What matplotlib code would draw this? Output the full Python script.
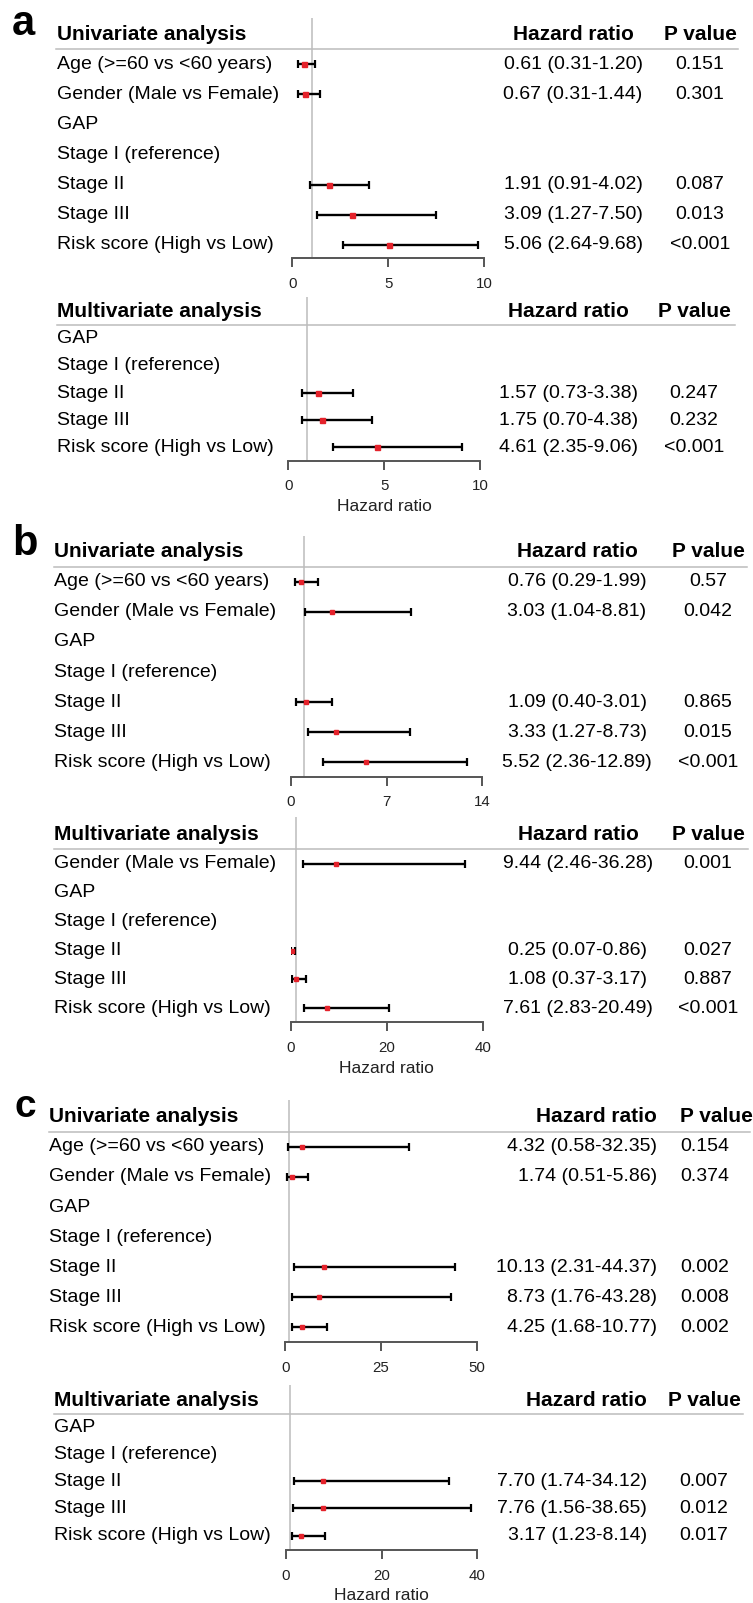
import numpy as np
import matplotlib
matplotlib.use('Agg')
import matplotlib.pyplot as plt
import matplotlib.transforms as mtransforms

plt.rcParams['font.family'] = ['Liberation Sans', 'DejaVu Sans']

W, H = 753, 1603
nan = np.nan

# ---- data -------------------------------------------------------------
# a, univariate
a_uni_labels = ['Age (>=60 vs <60 years)', 'Gender (Male vs Female)', 'GAP',
                'Stage I (reference)', 'Stage II', 'Stage III', 'Risk score (High vs Low)']
a_uni_hr = [0.61, 0.67, nan, nan, 1.91, 3.09, 5.06]
a_uni_lo = [0.31, 0.31, nan, nan, 0.91, 1.27, 2.64]
a_uni_hi = [1.20, 1.44, nan, nan, 4.02, 7.50, 9.68]
a_uni_p = ['0.151', '0.301', '', '', '0.087', '0.013', '<0.001']

# a, multivariate
a_mul_labels = ['GAP', 'Stage I (reference)', 'Stage II', 'Stage III', 'Risk score (High vs Low)']
a_mul_hr = [nan, nan, 1.57, 1.75, 4.61]
a_mul_lo = [nan, nan, 0.73, 0.70, 2.35]
a_mul_hi = [nan, nan, 3.38, 4.38, 9.06]
a_mul_p = ['', '', '0.247', '0.232', '<0.001']

# b, univariate
b_uni_labels = a_uni_labels
b_uni_hr = [0.76, 3.03, nan, nan, 1.09, 3.33, 5.52]
b_uni_lo = [0.29, 1.04, nan, nan, 0.40, 1.27, 2.36]
b_uni_hi = [1.99, 8.81, nan, nan, 3.01, 8.73, 12.89]
b_uni_p = ['0.57', '0.042', '', '', '0.865', '0.015', '<0.001']

# b, multivariate
b_mul_labels = ['Gender (Male vs Female)', 'GAP', 'Stage I (reference)', 'Stage II',
                'Stage III', 'Risk score (High vs Low)']
b_mul_hr = [9.44, nan, nan, 0.25, 1.08, 7.61]
b_mul_lo = [2.46, nan, nan, 0.07, 0.37, 2.83]
b_mul_hi = [36.28, nan, nan, 0.86, 3.17, 20.49]
b_mul_p = ['0.001', '', '', '0.027', '0.887', '<0.001']

# c, univariate
c_uni_labels = a_uni_labels
c_uni_hr = [4.32, 1.74, nan, nan, 10.13, 8.73, 4.25]
c_uni_lo = [0.58, 0.51, nan, nan, 2.31, 1.76, 1.68]
c_uni_hi = [32.35, 5.86, nan, nan, 44.37, 43.28, 10.77]
c_uni_p = ['0.154', '0.374', '', '', '0.002', '0.008', '0.002']

# c, multivariate
c_mul_labels = a_mul_labels
c_mul_hr = [nan, nan, 7.70, 7.76, 3.17]
c_mul_lo = [nan, nan, 1.74, 1.56, 1.23]
c_mul_hi = [nan, nan, 34.12, 38.65, 8.14]
c_mul_p = ['', '', '0.007', '0.012', '0.017']

RED = '#e4222b'
GREY = '#bcbcbc'
AX = '#555555'

fig = plt.figure(figsize=(W / 100, H / 100), dpi=100)


def forest(title, labels, hr, lo, hi, pv, xmax, ticks, lay, msize, xlabel=False):
    # lay: pixel layout of this block
    top, head, step, axis = lay['top'], lay['head'], lay['step'], lay['axis']
    x0, x1 = lay['x0'], lay['x1']
    ax = fig.add_axes([x0 / W, 1 - axis / H, (x1 - x0) / W, (axis - top) / H])
    ax.set_xlim(0, xmax)
    ax.set_ylim((axis - head) / step, (top - head) / step)

    hr = np.array(hr); lo = np.array(lo); hi = np.array(hi)
    y = np.arange(1, len(labels) + 1)
    ok = ~np.isnan(hr)

    ax.axvline(1, color=GREY, lw=1.1, zorder=0)
    ax.errorbar(hr[ok], y[ok], xerr=[hr[ok] - lo[ok], hi[ok] - hr[ok]], fmt='none',
                ecolor='black', elinewidth=1.7, capsize=2.6, capthick=1.6, zorder=2)
    ax.plot(hr[ok], y[ok], 's', color=RED, mec=RED, ms=msize, zorder=3)

    for s in ['top', 'left', 'right']:
        ax.spines[s].set_visible(False)
    ax.spines['bottom'].set_color(AX)
    ax.spines['bottom'].set_linewidth(1.4)
    ax.set_yticks([])
    ax.set_xticks(ticks)
    ax.tick_params(axis='x', direction='out', length=6.5, width=1.4, color=AX,
                   labelsize=10.8, pad=7, labelcolor='#222222')
    if xlabel:
        ax.set_xlabel('Hazard ratio', fontsize=12.5, labelpad=4, color='#222222')

    tr = mtransforms.blended_transform_factory(fig.transFigure, ax.transData)
    ax.plot([lay['lx0'] / W, lay['lx1'] / W], [0.5, 0.5], transform=tr, color=GREY,
            lw=1.1, clip_on=False)
    ax.text(lay['lab'] / W, 0, title, transform=tr, fontsize=15, fontweight='bold',
            va='center', ha='left')
    ax.text(lay['hr'] / W, 0, 'Hazard ratio', transform=tr, fontsize=15,
            fontweight='bold', va='center', ha=lay['hr_ha'])
    ax.text(lay['p'] / W, 0, 'P value', transform=tr, fontsize=15,
            fontweight='bold', va='center', ha=lay['p_ha'])

    for i, lab in enumerate(labels):
        ax.text(lay['lab'] / W, y[i], lab, transform=tr, fontsize=14, va='center',
                ha='left', clip_on=False)
        if ok[i]:
            ax.text(lay['hr'] / W, y[i], '%.2f (%.2f-%.2f)' % (hr[i], lo[i], hi[i]),
                    transform=tr, fontsize=14, va='center', ha=lay['hr_ha'])
            ax.text(lay['p'] / W, y[i], pv[i], transform=tr, fontsize=14,
                    va='center', ha=lay['p_ha'])
    return ax


lay_a1 = dict(top=18, head=34, step=30.1, axis=258, x0=292.3, x1=484.3, lab=57,
              lx0=56, lx1=738, hr=573, hr_ha='center', p=700, p_ha='center')
lay_a2 = dict(top=297, head=311.7, step=27.1, axis=460.7, x0=288.3, x1=480, lab=57,
              lx0=57, lx1=735, hr=568.5, hr_ha='center', p=694, p_ha='center')
lay_b1 = dict(top=536, head=551.7, step=30.1, axis=776.7, x0=290.7, x1=482.3, lab=54.3,
              lx0=53.5, lx1=747, hr=577, hr_ha='center', p=708, p_ha='center')
lay_b2 = dict(top=817, head=835, step=28.9, axis=1022.3, x0=290.7, x1=482.7, lab=54.3,
              lx0=54, lx1=748, hr=578, hr_ha='center', p=708, p_ha='center')
lay_c1 = dict(top=1100, head=1116.7, step=30.1, axis=1342.3, x0=285.3, x1=476.7, lab=49.3,
              lx0=48.5, lx1=750, hr=657, hr_ha='right', p=680, p_ha='left')
lay_c2 = dict(top=1385, head=1400, step=27.1, axis=1550, x0=285.7, x1=477.3, lab=54.3,
              lx0=54, lx1=743, hr=647, hr_ha='right', p=704, p_ha='center')

forest('Univariate analysis', a_uni_labels, a_uni_hr, a_uni_lo, a_uni_hi, a_uni_p,
       10, [0, 5, 10], lay_a1, 3.6)
forest('Multivariate analysis', a_mul_labels, a_mul_hr, a_mul_lo, a_mul_hi, a_mul_p,
       10, [0, 5, 10], lay_a2, 3.6, xlabel=True)
forest('Univariate analysis', b_uni_labels, b_uni_hr, b_uni_lo, b_uni_hi, b_uni_p,
       14, [0, 7, 14], lay_b1, 2.4)
forest('Multivariate analysis', b_mul_labels, b_mul_hr, b_mul_lo, b_mul_hi, b_mul_p,
       40, [0, 20, 40], lay_b2, 2.4, xlabel=True)
forest('Univariate analysis', c_uni_labels, c_uni_hr, c_uni_lo, c_uni_hi, c_uni_p,
       50, [0, 25, 50], lay_c1, 3.4)
forest('Multivariate analysis', c_mul_labels, c_mul_hr, c_mul_lo, c_mul_hi, c_mul_p,
       40, [0, 20, 40], lay_c2, 3.4, xlabel=True)

# panel letters
fig.text(12 / W, 1 - 35 / H, 'a', fontsize=30, fontweight='bold', va='baseline')
fig.text(12 / W, 1 - 555 / H, 'b', fontsize=30, fontweight='bold', va='baseline')
fig.text(15 / W, 1 - 1117 / H, 'c', fontsize=28, fontweight='bold', va='baseline')

fig.savefig('out.png', dpi=100)
